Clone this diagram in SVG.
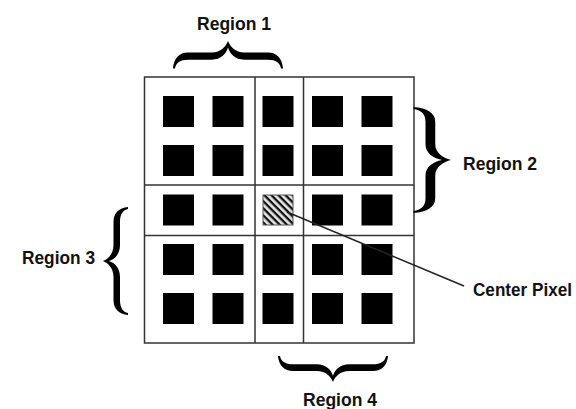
<svg xmlns="http://www.w3.org/2000/svg" width="576" height="409" viewBox="0 0 576 409">
  <style>
    .grid { fill: none; stroke: #333; stroke-width: 1.5; }
    .px { fill: #000; }
    .brace { fill: #000; }
    .label { font-family: "Liberation Sans", Arial, sans-serif; font-weight: bold; font-size: 18px; fill: #111; }
    .leader { stroke: #222; stroke-width: 1.5; fill: none; }
  </style>
  <defs>
    <!-- hatch for the center pixel: dark stripes running top-left to bottom-right -->
    <pattern id="hatch" patternUnits="userSpaceOnUse" width="5" height="5" patternTransform="rotate(45)">
      <rect width="5" height="5" fill="#e6e6e6"/>
      <rect width="5" height="2.3" fill="#111"/>
    </pattern>
    <!-- curly brace "{" : tip at origin, arms opening toward +x -->
    <path id="brace" d="M25,-54 C16,-53 10.5,-48 10.5,-39 L10.5,-16 C10.5,-7 5,-2 0,0 C5,2 10.5,7 10.5,16 L10.5,39 C10.5,48 16,53 25,54 L25,52 C20,51 17,47 17,39 L17,16 C17,7 12,2 6,0 C12,-2 17,-7 17,-16 L17,-39 C17,-47 20,-51 25,-52 Z"/>
  </defs>

  <rect width="576" height="409" fill="#fff"/>

  <!-- 5x5 window with its region partitions -->
  <g id="window">
    <rect class="grid" x="144.5" y="77" width="269.5" height="266"/>
    <line class="grid" x1="255" y1="77" x2="255" y2="343"/>
    <line class="grid" x1="303.5" y1="77" x2="303.5" y2="343"/>
    <line class="grid" x1="144.5" y1="185" x2="414" y2="185"/>
    <line class="grid" x1="144.5" y1="235.5" x2="414" y2="235.5"/>
  </g>

  <g id="pixels">
    <!-- row 1 -->
    <rect class="px" x="163" y="96" width="31" height="31"/>
    <rect class="px" x="212.5" y="96" width="31" height="31"/>
    <rect class="px" x="262.5" y="96" width="31" height="31"/>
    <rect class="px" x="312" y="96" width="31" height="31"/>
    <rect class="px" x="361.5" y="96" width="31" height="31"/>
    <!-- row 2 -->
    <rect class="px" x="163" y="145" width="31" height="31"/>
    <rect class="px" x="212.5" y="145" width="31" height="31"/>
    <rect class="px" x="262.5" y="145" width="31" height="31"/>
    <rect class="px" x="312" y="145" width="31" height="31"/>
    <rect class="px" x="361.5" y="145" width="31" height="31"/>
    <!-- row 3 -->
    <rect class="px" x="163" y="194.5" width="31" height="31"/>
    <rect class="px" x="212.5" y="194.5" width="31" height="31"/>
    <rect class="px" x="312" y="194.5" width="31" height="31"/>
    <rect class="px" x="361.5" y="194.5" width="31" height="31"/>
    <!-- row 4 -->
    <rect class="px" x="163" y="244" width="31" height="31"/>
    <rect class="px" x="212.5" y="244" width="31" height="31"/>
    <rect class="px" x="262.5" y="244" width="31" height="31"/>
    <rect class="px" x="312" y="244" width="31" height="31"/>
    <rect class="px" x="361.5" y="244" width="31" height="31"/>
    <!-- row 5 -->
    <rect class="px" x="163" y="293" width="31" height="31"/>
    <rect class="px" x="212.5" y="293" width="31" height="31"/>
    <rect class="px" x="262.5" y="293" width="31" height="31"/>
    <rect class="px" x="312" y="293" width="31" height="31"/>
    <rect class="px" x="361.5" y="293" width="31" height="31"/>
  </g>

  <g id="center-pixel">
    <rect x="263" y="195" width="30" height="30" fill="url(#hatch)" stroke="#555" stroke-width="1"/>
  </g>

  <g id="connectors">
    <line class="leader" x1="287" y1="212" x2="464" y2="286"/>
  </g>

  <g id="region-1">
    <use href="#brace" class="brace" transform="translate(228,41) rotate(90) scale(1.1,1.02)"/>
    <text class="label" x="197" y="30" textLength="74" lengthAdjust="spacingAndGlyphs">Region 1</text>
  </g>

  <g id="region-2">
    <use href="#brace" class="brace" transform="translate(451,160) scale(-1.5,0.98)"/>
    <text class="label" x="463" y="170" textLength="74" lengthAdjust="spacingAndGlyphs">Region 2</text>
  </g>

  <g id="region-3">
    <use href="#brace" class="brace" transform="translate(103,261)"/>
    <text class="label" x="22" y="264" textLength="73" lengthAdjust="spacingAndGlyphs">Region 3</text>
  </g>

  <g id="region-4">
    <use href="#brace" class="brace" transform="translate(333,382) rotate(-90) scale(1.04,1.02)"/>
    <text class="label" x="303" y="406" textLength="74" lengthAdjust="spacingAndGlyphs">Region 4</text>
  </g>

  <g id="center-label">
    <text class="label" x="473" y="296" textLength="99" lengthAdjust="spacingAndGlyphs">Center Pixel</text>
  </g>
</svg>
